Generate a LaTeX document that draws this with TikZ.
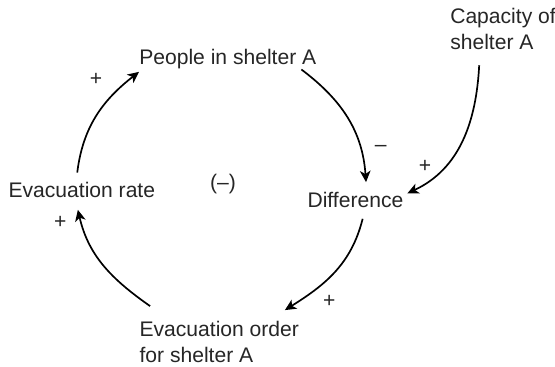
\documentclass[tikz,border=0pt]{standalone}
\usepackage{fontspec}
\setmainfont{Liberation Sans}
\usetikzlibrary{arrows.meta,positioning,calc}
\definecolor{textcolor}{RGB}{38,38,38}

\begin{document}
\begin{tikzpicture}[
  every node/.style={font=\fontsize{15}{18.5}\selectfont, text=textcolor, inner sep=0pt},
  link/.style={line width=1.2pt, -{Stealth[length=8pt,width=7.5pt,inset=2.2pt]}},
  sign/.style={anchor=center}
]

\useasboundingbox (0,0) rectangle (13.875,-9.175);

% ================= VARIABLES =================
\node[anchor=base west] (people) at (3.475,-1.6) {People in shelter A};
\node[anchor=north west, align=left] (capacity) at (11.25,-0.19)
{Capacity of\\shelter A};
\node[anchor=base west] (rate) at (0.2075,-4.9325) {Evacuation rate};
\node[anchor=base west] (diff) at (7.6825,-5.1825) {Difference};
\node[anchor=north west, align=left] (order) at (3.4825,-8.0225)
{Evacuation order\\for shelter A};

% loop polarity
\node (loop) at (5.575,-4.6) {(–)};

% ================= LINKS =================
\draw[link] ([shift={(-0.115,0.23)}]rate.north)
  to[out=83,in=218] ([shift={(0,-0.08)}]people.south west);
\draw[link] ([shift={(-0.38,-0.02)}]people.south east)
  to[out=-37,in=94] ([shift={(0.265,0.24)}]diff.north);
\draw[link] ([shift={(0.18,-0.275)}]diff.south)
  to[out=-104,in=32] ([shift={(-0.36,0.27)}]order.north east);
\draw[link] ([shift={(0.27,0.37)}]order.north west)
  to[out=145,in=-77] ([shift={(-0.1,-0.3)}]rate.south);
\draw[link] ([shift={(0.73,-0.39)}]capacity.south west)
  to[out=-93,in=25] ([shift={(0.095,-0.04)}]diff.north east);

% ================= SIGNS =================
\node[sign] (s1) at (2.4,-1.975) {+};
\node[sign] (s2) at (9.52,-3.70) {–};
\node[sign] (s3) at (10.625,-4.15) {+};
\node[sign] (s4) at (8.23,-7.525) {+};
\node[sign] (s5) at (1.51,-5.55) {+};

\end{tikzpicture}
\end{document}
